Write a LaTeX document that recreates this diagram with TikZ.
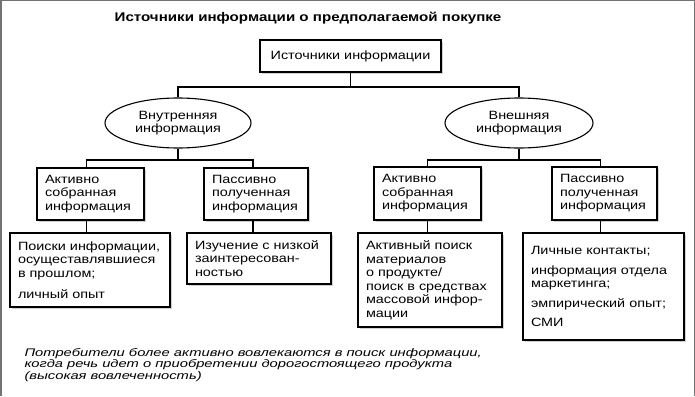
\documentclass[tikz,border=0pt]{standalone}
\usepackage{fontspec}
\setmainfont{Liberation Sans}[FakeStretch=1.2]
\newfontfamily\notefont{Liberation Sans}[FakeStretch=1.34]
\usetikzlibrary{shapes.geometric,shadows}
\begin{document}
\begin{tikzpicture}[x=1pt,y=-1pt,
  every node/.style={font=\fontsize{12}{13.5}\selectfont},
  box/.style={draw, line width=1.1pt, fill=white, align=left, inner xsep=8pt, inner ysep=2pt,
    drop shadow={shadow xshift=2pt, shadow yshift=-2pt, opacity=0.3, fill=black!60}},
  oval/.style={draw, ellipse, line width=1.1pt, fill=white, align=center, inner sep=0pt},
  link/.style={line width=1.1pt}]
\useasboundingbox (0,0) rectangle (695,396);
\draw[black!55, line width=1.5pt] (0.75,396) -- (0.75,0.75) -- (694.25,0.75) -- (694.25,396);

\node[font=\bfseries\fontsize{12.6}{14}\selectfont] (title) at (308,18) {Источники информации о предполагаемой покупке};

\node[box, align=center, minimum width=181pt, minimum height=32pt] (top) at (350.5,56) {Источники информации};
\node[oval, minimum width=146pt, minimum height=50pt] (ellL) at (178,123) {Внутренняя\\информация};
\node[oval, minimum width=148pt, minimum height=50pt] (ellR) at (519,123) {Внешняя\\информация};

\node[box, text width=91pt, minimum height=52pt] (a1) at (90.5,194) {Активно\\собранная\\информация};
\node[box, text width=88pt, minimum height=52pt] (a2) at (256,194) {Пассивно\\полученная\\информация};
\node[box, text width=91pt, minimum height=53pt] (a3) at (427.5,193.5) {Активно\\собранная\\информация};
\node[box, text width=89pt, minimum height=53pt] (a4) at (604.5,193.5) {Пассивно\\полученная\\информация};

\node[box, text width=144pt, minimum height=74pt] (b1) at (90,270) {Поиски информации,\\осущеставлявшиеся\\в прошлом;\\[8pt]личный опыт};
\node[box, text width=128pt, minimum height=51pt] (b2) at (259,258.5) {Изучение с низкой\\заинтересован-\\ностью};
\node[box, text width=128pt, minimum height=94pt] (b3) at (430,280) {Активный поиск\\материалов\\о продукте/\\поиск в средствах\\массовой инфор-\\мации};
\node[box, text width=145pt, minimum height=107pt] (b4) at (603.5,286.5) {Личные контакты;\\[6pt]информация отдела\\маркетинга;\\[6pt]эмпирический опыт;\\[6pt]СМИ};

\coordinate (j0) at (350.5,87);
\coordinate (j1) at (179,160);
\coordinate (j2) at (520,160);
\draw[link] (top.south) -- (j0);
\draw[link] (ellL.north) |- (j0) -| (ellR.north);
\draw[link] (ellL.south) -- (ellL.south |- j1);
\draw[link] ([xshift=-4pt]a1.north) |- (j1) -| ([xshift=-3pt]a2.north);
\draw[link] (ellR.south) -- (ellR.south |- j2);
\draw[link] (a3.north) |- (j2) -| ([xshift=-4pt]a4.north);
\draw[link] ([xshift=-4pt]a1.south) -- ([xshift=-4pt]a1.south |- b1.north);
\draw[link] ([xshift=-3pt]a2.south) -- ([xshift=-3pt]a2.south |- b2.north);
\draw[link] (a3.south) -- (a3.south |- b3.north);
\draw[link] ([xshift=-4pt]a4.south) -- ([xshift=-4pt]a4.south |- b4.north);

\node[anchor=west, align=left, font=\notefont\itshape\fontsize{11}{11.8}\selectfont] (note) at (21,365) {Потребители более активно вовлекаются в поиск информации,\\когда речь идет о приобретении дорогостоящего продукта\\(высокая вовлеченность)};
\end{tikzpicture}
\end{document}
